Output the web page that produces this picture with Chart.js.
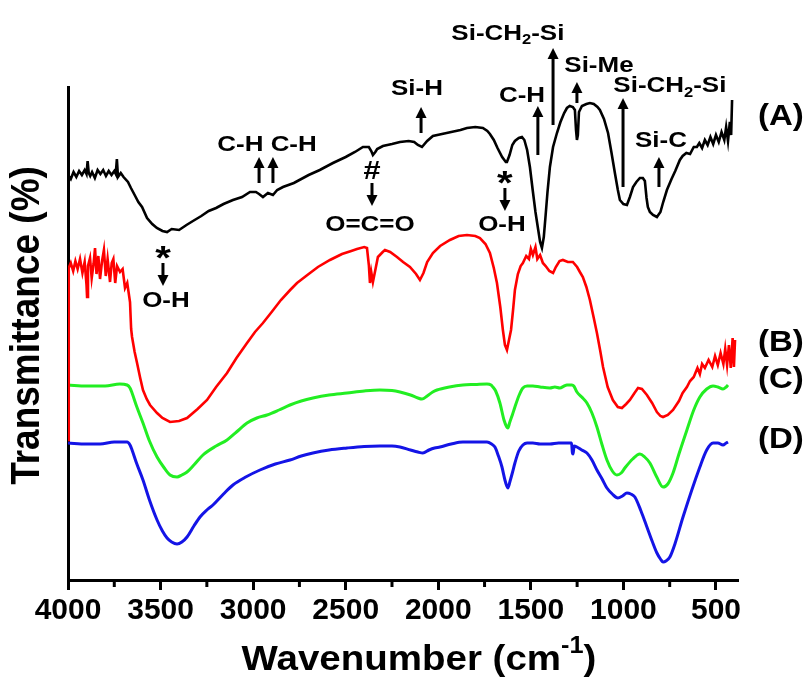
<!DOCTYPE html>
<html>
<head>
<meta charset="utf-8">
<script src="https://cdn.jsdelivr.net/npm/chart.js@4.4.1/dist/chart.umd.min.js"></script>
<style>
  html, body { margin: 0; padding: 0; background: #fff; }
  #wrap { width: 809px; height: 680px; }
</style>
</head>
<body>
<div id="wrap"><canvas id="ftir"></canvas></div>
<script>
// FTIR spectra, values (wavenumber in cm-1, transmittance in a.u.)

// (A) black
const waveA = [4000, 3985, 3970, 3955, 3940, 3925, 3910, 3900, 3894, 3888, 3880, 3870, 3855, 3840, 3825, 3810, 3795, 3780, 3765, 3750, 3742, 3736, 3730, 3715, 3700, 3676, 3660, 3640, 3620, 3600, 3573, 3545, 3520, 3490, 3465, 3440, 3400, 3360, 3325, 3280, 3240, 3200, 3160, 3109, 3060, 3017, 2985, 2968, 2947, 2920, 2893, 2870, 2839, 2780, 2700, 2640, 2569, 2500, 2450, 2407, 2375, 2362, 2353, 2340, 2330, 2299, 2250, 2207, 2160, 2130, 2110, 2088, 2060, 2029, 1980, 1930, 1880, 1845, 1800, 1759, 1735, 1721, 1700, 1680, 1655, 1635, 1629, 1615, 1600, 1586, 1565, 1548, 1535, 1520, 1505, 1490, 1475, 1460, 1450, 1440, 1430, 1420, 1410, 1397, 1380, 1359, 1340, 1320, 1305, 1290, 1273, 1262, 1256, 1251, 1246, 1240, 1224, 1200, 1181, 1160, 1140, 1127, 1105, 1083, 1065, 1046, 1030, 1019, 1000, 981, 965, 948, 930, 911, 895, 884, 875, 868, 857, 840, 819, 800, 785, 765, 740, 720, 695, 680, 660, 640, 620, 603, 590, 575, 560, 545, 530, 515, 500, 485, 470, 455, 445, 435, 425, 418, 413];
const transA = [81, 80.2, 81.6, 80.6, 81.8, 81, 82, 81.2, 83.8, 81.4, 80.8, 81.6, 80.4, 82, 81.2, 82, 80.8, 81.8, 81, 81.8, 81.2, 84.2, 80.6, 81.4, 80.6, 79.6, 78.4, 77, 75.6, 74.6, 72.4, 71.2, 70.4, 69.8, 69.6, 70.2, 70, 71, 71.8, 72.8, 73.8, 74.4, 75.2, 76, 76.6, 77.6, 77.6, 77.2, 76.6, 77.4, 77, 78, 78.6, 79.4, 81, 82, 83.4, 84.6, 85.6, 86.6, 86.6, 85.8, 85, 85.6, 86.2, 86.8, 87.2, 87.6, 87.8, 87.6, 87, 86.6, 87.8, 88.8, 89.2, 89.6, 90, 90.4, 90.6, 90.4, 89.8, 89.2, 88, 86.4, 84.6, 83.6, 83.6, 85, 87, 87.8, 88.4, 88.6, 88, 86, 82.6, 78, 73.6, 70, 67.6, 66.4, 68.6, 73, 77.6, 82.6, 86.6, 89.4, 91.6, 93.4, 94.4, 94.8, 94.6, 94, 90, 88, 89, 93.6, 94.8, 95.2, 95.4, 95.2, 94.6, 94, 92.2, 89.4, 85.6, 81.4, 78, 76, 75.2, 75, 76.6, 78.6, 79.6, 80.4, 80.4, 79.8, 76.4, 74.6, 73.6, 73, 72.6, 73.6, 75.6, 78, 80.2, 81.8, 84, 84.8, 85.4, 85.2, 86.6, 86.6, 87.4, 86.4, 88, 87, 88.6, 87.2, 89, 87.6, 89.6, 88, 90.6, 87.8, 91.6, 89, 96];

// (B) red
const waveB = [4000, 3996, 3985, 3972, 3960, 3948, 3935, 3922, 3910, 3900, 3897, 3892, 3881, 3872, 3862, 3854, 3846, 3836, 3827, 3816, 3806, 3796, 3786, 3773, 3764, 3755, 3745, 3735, 3719, 3705, 3692, 3680, 3665, 3659, 3654, 3640, 3627, 3610, 3595, 3575, 3557, 3519, 3490, 3449, 3400, 3357, 3300, 3249, 3200, 3141, 3090, 3033, 2990, 2947, 2900, 2850, 2800, 2763, 2700, 2650, 2585, 2520, 2470, 2439, 2400, 2385, 2375, 2369, 2362, 2353, 2340, 2326, 2300, 2288, 2260, 2223, 2190, 2153, 2120, 2099, 2080, 2060, 2029, 1990, 1937, 1890, 1845, 1800, 1775, 1745, 1721, 1700, 1683, 1665, 1651, 1640, 1629, 1618, 1607, 1596, 1586, 1570, 1555, 1543, 1525, 1510, 1500, 1489, 1475, 1465, 1450, 1435, 1420, 1400, 1380, 1365, 1345, 1327, 1300, 1273, 1250, 1235, 1219, 1200, 1181, 1160, 1143, 1125, 1110, 1085, 1057, 1030, 1008, 985, 965, 940, 921, 900, 873, 845, 819, 800, 786, 760, 732, 700, 680, 657, 640, 620, 600, 587, 575, 560, 540, 520, 505, 490, 475, 460, 450, 440, 430, 420, 410, 403, 397];
const transB = [28, 62.4, 63.4, 61.8, 63.8, 62.2, 64.2, 61.4, 63.6, 59, 56.6, 62.8, 64.4, 60.4, 63.2, 66.4, 61.2, 64.8, 60.2, 63.8, 66, 60.8, 64.2, 59.6, 63.4, 64.2, 59.4, 62.8, 61.6, 62.2, 58.4, 59.4, 55.6, 50.2, 48.6, 45.6, 43.4, 40.4, 38, 36.2, 35, 33.4, 32.4, 31.6, 31.8, 32.4, 34.2, 36, 38.6, 41.4, 44.4, 47.4, 49.6, 51.4, 53.6, 56, 58, 59.4, 61.2, 62.6, 64, 65.2, 65.8, 66.2, 66.6, 66.4, 63, 59.4, 61.6, 59.6, 62, 64.6, 65.6, 66, 65.6, 64.6, 63.6, 62.6, 61.2, 60, 61.4, 63.6, 65.4, 66.8, 68, 68.8, 69, 68.8, 68.4, 67.2, 65.4, 62.4, 59.4, 54.6, 50, 47, 46, 48, 50, 54, 58, 61.2, 62.8, 63.4, 64.8, 64.2, 66.2, 65, 66.6, 64.2, 65, 63.4, 62.8, 61.8, 61.4, 62.6, 63.8, 64, 63.6, 63.6, 62.6, 61.6, 60.6, 58.6, 56, 52.4, 49.4, 45.8, 42.6, 38.6, 36, 34.6, 34.4, 35.2, 36, 37.4, 38.4, 38.2, 37, 35.4, 33.6, 32.8, 32.6, 33, 34, 35.8, 37.4, 38.6, 39.8, 40.6, 42.4, 41.2, 43.2, 42.4, 44, 42.6, 44.8, 43, 45.4, 43.2, 46.2, 43, 47, 42.4, 48.4, 42.6, 48];

// (C) green
const waveC = [4000, 3900, 3800, 3720, 3681, 3665, 3654, 3630, 3595, 3560, 3519, 3480, 3449, 3411, 3385, 3357, 3320, 3271, 3200, 3141, 3090, 3033, 2980, 2925, 2860, 2801, 2740, 2677, 2590, 2493, 2400, 2315, 2250, 2207, 2150, 2110, 2088, 2060, 2030, 2007, 1940, 1867, 1800, 1737, 1715, 1705, 1690, 1667, 1645, 1630, 1624, 1615, 1600, 1586, 1565, 1543, 1520, 1489, 1450, 1397, 1370, 1343, 1320, 1305, 1278, 1268, 1251, 1225, 1197, 1170, 1143, 1115, 1089, 1060, 1035, 1012, 992, 950, 911, 885, 857, 820, 786, 760, 732, 700, 657, 620, 587, 550, 516, 490, 462, 445, 435];
const transC = [39, 38.8, 38.8, 39.2, 39, 38.4, 37.4, 34.8, 31.4, 27.8, 24.6, 22.4, 21, 20.6, 21, 21.6, 23, 25, 26.8, 28, 29.6, 31.4, 32.4, 33, 34, 35, 35.8, 36.4, 37, 37.4, 37.8, 38, 37.9, 37.6, 37, 36.4, 36.2, 36.8, 37.6, 38, 38.6, 39, 39.1, 39.2, 39, 38.6, 37.8, 35.4, 32, 30.6, 30.4, 31.4, 33, 34.6, 36.8, 38.4, 38.8, 38.8, 38.6, 38.4, 38.6, 38.4, 38.8, 39, 39, 38.8, 37.6, 36.6, 35.4, 33.4, 30.6, 27, 24, 21.8, 21, 21.4, 22.4, 24.2, 25.2, 24.6, 23.4, 20.6, 18.6, 19.2, 21.4, 25.2, 30, 34, 36.6, 38.2, 38.8, 38.6, 38.2, 38.6, 39];

// (D) blue
const waveD = [4000, 3900, 3827, 3750, 3681, 3665, 3654, 3630, 3595, 3560, 3519, 3490, 3465, 3440, 3411, 3385, 3357, 3320, 3287, 3250, 3217, 3160, 3109, 3040, 2963, 2880, 2801, 2740, 2677, 2590, 2493, 2400, 2315, 2250, 2207, 2150, 2110, 2083, 2050, 2020, 1991, 1930, 1867, 1800, 1737, 1712, 1694, 1675, 1656, 1640, 1630, 1624, 1612, 1600, 1586, 1565, 1543, 1520, 1489, 1450, 1397, 1350, 1305, 1280, 1276, 1272, 1266, 1251, 1225, 1197, 1170, 1143, 1115, 1089, 1060, 1030, 1005, 981, 960, 938, 905, 873, 845, 819, 800, 786, 770, 749, 720, 678, 587, 550, 516, 490, 462, 445, 435];
const transD = [27.4, 27.2, 27.2, 27.6, 27.6, 27, 26, 23.4, 20, 16, 12, 9.8, 8.4, 7.6, 7.2, 7.6, 8.6, 10.8, 12.6, 14, 15, 17.2, 19, 20.6, 22, 23.2, 24, 24.8, 25.4, 26, 26.4, 26.7, 26.8, 26.8, 26.6, 26, 25.6, 25.4, 26, 26.4, 26.6, 27.2, 27.6, 27.6, 27.6, 27.2, 26.6, 24.8, 22.6, 20, 18.8, 18.4, 19.8, 21.4, 23.4, 25.8, 27, 27.4, 27.4, 27.2, 27.2, 27.4, 27.4, 27.4, 25.6, 25.2, 26.8, 26.6, 26, 25.4, 24, 22, 20.2, 18.4, 17.2, 16.4, 16.8, 17.4, 17.2, 16.6, 13.8, 10.6, 7.8, 5.4, 4.2, 3.6, 3.8, 4.6, 7.4, 12.6, 22.6, 26, 27.4, 27.4, 27, 27.4, 27.6];

const seriesNames = ['(A)', '(B)', '(C)', '(D)'];
const seriesColors = ['#000000', '#ff0000', '#22ee22', '#1414e6'];

// axis ticks
const tickValues = [4000, 3500, 3000, 2500, 2000, 1500, 1000, 500];
const minorTickValues = [3750, 3250, 2750, 2250, 1750, 1250, 750];

function zip(xs, ys) {
    return xs.map((x, i) => ({ x: x, y: ys[i] }));
}

// band assignments: arrows (tip at "to") and labels, in data units
const bandArrows = [
    { wn: 3487, from: 63.4, to: 58.8 },
    { wn: 2968, from: 79.4, to: 84.6 },
    { wn: 2893, from: 79.4, to: 84.6 },
    { wn: 2358, from: 79.4, to: 74.8 },
    { wn: 2093, from: 89.4, to: 94.6 },
    { wn: 1640, from: 78.4, to: 73.8 },
    { wn: 1462, from: 85, to: 94.8 },
    { wn: 1380, from: 91, to: 106.4 },
    { wn: 1251, from: 95.4, to: 99.6 },
    { wn: 1002, from: 78.6, to: 96.4 },
    { wn: 808, from: 78.6, to: 84.6 }
];

const bandLabels = [
    { parts: [['*']], wn: 3487, y: 65.6, size: 34 },
    { parts: [['O-H']], wn: 3471, y: 55.8 },
    { parts: [['C-H C-H']], wn: 2925, y: 87.1 },
    { parts: [['#']], wn: 2358, y: 81.6, size: 26 },
    { parts: [['O=C=O']], wn: 2369, y: 71.1 },
    { parts: [['Si-H']], wn: 2115, y: 98.3 },
    { parts: [['*']], wn: 1640, y: 80.6, size: 34 },
    { parts: [['O-H']], wn: 1656, y: 71 },
    { parts: [['C-H']], wn: 1548, y: 96.9 },
    { parts: [['Si-CH'], ['2', 'sub'], ['-Si']], wn: 1624, y: 109.3 },
    { parts: [['Si-Me']], wn: 1132, y: 102.9 },
    { parts: [['Si-CH'], ['2', 'sub'], ['-Si']], wn: 749, y: 98.8 },
    { parts: [['Si-C']], wn: 797, y: 87.9 }
];

const seriesLabelPos = [92.6, 47.4, 40, 28];

const FONT_FAMILY = '"Liberation Sans", Arial, Helvetica, sans-serif';

// draws bold text centred on (cx, cy), stretched horizontally like the original figure
function drawRich(ctx, parts, cx, cy, size, stretch) {
    ctx.save();
    const fonts = parts.map(p => 'bold ' + (p[1] ? Math.round(size * 0.65) : size) + 'px ' + FONT_FAMILY);
    let total = 0;
    const widths = parts.map((p, i) => {
        ctx.font = fonts[i];
        const w = ctx.measureText(p[0]).width;
        total += w;
        return w;
    });
    ctx.translate(cx, cy);
    ctx.scale(stretch, 1);
    ctx.textAlign = 'left';
    ctx.textBaseline = 'middle';
    let x = -total / 2;
    parts.forEach((p, i) => {
        ctx.font = fonts[i];
        let dy = 0;
        if (p[1] === 'sub') dy = size * 0.32;
        if (p[1] === 'sup') dy = -size * 0.38;
        if (p[0] === '*') dy = size * 0.22;
        ctx.fillText(p[0], x, dy);
        x += widths[i];
    });
    ctx.restore();
}

function drawArrow(ctx, x, y0, y1) {
    const dir = y1 < y0 ? -1 : 1;
    ctx.beginPath();
    ctx.moveTo(x, y0);
    ctx.lineTo(x, y1 - dir * 8);
    ctx.stroke();
    ctx.beginPath();
    ctx.moveTo(x, y1);
    ctx.lineTo(x - 5.5, y1 - dir * 11);
    ctx.lineTo(x + 5.5, y1 - dir * 11);
    ctx.closePath();
    ctx.fill();
}

const annotationPlugin = {
    id: 'ftirAnnotations',
    afterDraw(chart) {
        const ctx = chart.ctx;
        const xs = chart.scales.x;
        const ys = chart.scales.y;
        const area = chart.chartArea;
        ctx.save();
        ctx.fillStyle = '#000';
        ctx.strokeStyle = '#000';

        // minor ticks
        ctx.lineWidth = 3;
        minorTickValues.forEach(v => {
            const px = xs.getPixelForValue(v);
            ctx.beginPath();
            ctx.moveTo(px, area.bottom);
            ctx.lineTo(px, area.bottom + 7);
            ctx.stroke();
        });

        // arrows
        ctx.lineWidth = 3;
        bandArrows.forEach(a => {
            drawArrow(ctx, xs.getPixelForValue(a.wn), ys.getPixelForValue(a.from), ys.getPixelForValue(a.to));
        });

        // band labels
        bandLabels.forEach(l => {
            drawRich(ctx, l.parts, xs.getPixelForValue(l.wn), ys.getPixelForValue(l.y), l.size || 22, 1.18);
        });

        // series labels
        seriesNames.forEach((name, i) => {
            drawRich(ctx, [[name]], xs.getPixelForValue(149), ys.getPixelForValue(seriesLabelPos[i]), 30, 1.1);
        });

        // axis titles
        drawRich(ctx, [['Wavenumber (cm'], ['-1', 'sup'], [')']], (area.left + area.right) / 2 + 16, area.bottom + 80, 35, 1.1);

        ctx.save();
        ctx.translate(28, (area.top + area.bottom) / 2 - 8);
        ctx.rotate(-Math.PI / 2);
        ctx.scale(1, 1.1);
        drawRich(ctx, [['Transmittance (%)']], 0, 0, 37, 1);
        ctx.restore();

        ctx.restore();
    }
};

const datasets = [
    { data: zip(waveA, transA), borderWidth: 2.6 },
    { data: zip(waveB, transB), borderWidth: 2.6 },
    { data: zip(waveC, transC), borderWidth: 3, cubicInterpolationMode: 'monotone' },
    { data: zip(waveD, transD), borderWidth: 3, cubicInterpolationMode: 'monotone' }
].map((d, i) => Object.assign({
    label: seriesNames[i],
    borderColor: seriesColors[i],
    backgroundColor: seriesColors[i],
    pointRadius: 0,
    fill: false,
    tension: 0
}, d));

new Chart(document.getElementById('ftir'), {
    type: 'line',
    data: { datasets: datasets },
    options: {
        responsive: true,
        maintainAspectRatio: false,
        animation: false,
        layout: { padding: { left: 0, right: 71, top: 87, bottom: 0 } },
        plugins: {
            legend: { display: false },
            tooltip: { enabled: false }
        },
        scales: {
            x: {
                type: 'linear',
                reverse: true,
                min: 381,
                max: 4000,
                afterBuildTicks: scale => {
                    scale.ticks = tickValues.map(v => ({ value: v }));
                },
                afterFit: scale => { scale.height = 100; },
                border: { display: true, color: '#000', width: 3 },
                grid: {
                    display: true,
                    drawOnChartArea: false,
                    drawTicks: true,
                    tickLength: 10,
                    tickWidth: 3,
                    tickColor: '#000'
                },
                ticks: {
                    color: '#000',
                    padding: 3,
                    maxRotation: 0,
                    autoSkip: false,
                    callback: value => String(value),
                    font: { family: FONT_FAMILY, size: 30, weight: 'bold' }
                }
            },
            y: {
                type: 'linear',
                min: 0,
                max: 98.6,
                afterFit: scale => { scale.width = 68; },
                border: { display: true, color: '#000', width: 3 },
                grid: { display: false },
                ticks: { display: false }
            }
        }
    },
    plugins: [annotationPlugin]
});
</script>
</body>
</html>
